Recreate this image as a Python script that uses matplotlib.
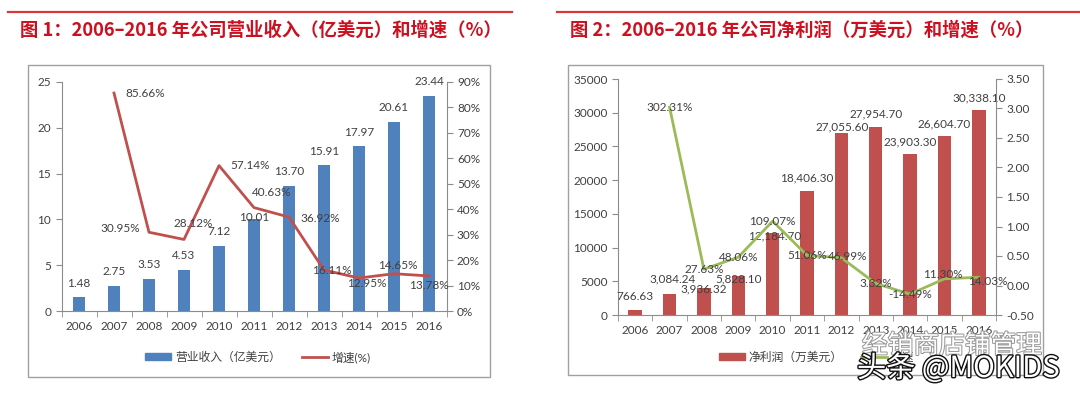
import matplotlib
matplotlib.use("Agg")
import matplotlib.pyplot as plt
from matplotlib.patches import Rectangle
from matplotlib.lines import Line2D
import matplotlib.patheffects as pe
import numpy as np

plt.rcParams['font.family'] = ['Lato', 'Noto Sans CJK SC', 'DejaVu Sans']

# ---------------- data ----------------
years = ['2006', '2007', '2008', '2009', '2010', '2011', '2012', '2013', '2014', '2015', '2016']
revenue = [1.48, 2.75, 3.53, 4.53, 7.12, 10.01, 13.70, 15.91, 17.97, 20.61, 23.44]
revenue_growth = [85.66, 30.95, 28.12, 57.14, 40.63, 36.92, 16.11, 12.95, 14.65, 13.78]  # 2007-2016, %
profit = [766.63, 3084.24, 3936.32, 5828.10, 12184.70, 18406.30, 27055.60, 27954.70,
          23903.30, 26604.70, 30338.10]
profit_growth = [3.0231, 0.2763, 0.4806, 1.0907, 0.5106, 0.4699, 0.0332, -0.1449,
                 0.1130, 0.1403]  # 2007-2016, ratio

title1 = '图 1：2006–2016 年公司营业收入（亿美元）和增速（%）'
title2 = '图 2：2006–2016 年公司净利润（万美元）和增速（%）'
legend1 = ['营业收入（亿美元）', '增速(%)']
legend2 = ['净利润（万美元）', '增速']

# label offsets (pixels)
rev_bar_dy = [14, 14, 14, 14, 14, 2, 14, 14, 14, 15, 15]
rev_gr_off = [(31, 0), (-29, 4), (9, 16), (31, 0), (18, 15), (31, -1), (8, 0), (8, -5), (4, 8), (0, -10)]
pro_bar_off = [(0, 13), (3, 15), (0, 0), (0, -3), (2, -3), (0, 13), (1, 6), (0, 13), (0, 12), (0, 12), (0, 13)]
pro_gr_off = [(0, 0), (0, 0), (0, 0), (0, 0), (0, 0), (6, 1), (0, 0), (0, 0), (-2, 4), (9, -4)]

W, H = 1080, 393
fig = plt.figure(figsize=(W / 100, H / 100), dpi=100)
fig.patch.set_facecolor('white')


def rect(l, t, r, b):
    return [l / W, 1 - b / H, (r - l) / W, (b - t) / H]


AX_COLOR = '#8c8c8c'
TXT = '#404040'
TITLE_RED = '#cc1020'

# ---- frames, rules, titles ----
fig.add_artist(Line2D([8 / W, 512 / W], [1 - 12 / H, 1 - 12 / H], color='#d9383a', lw=1.6))
fig.add_artist(Line2D([557 / W, 1080 / W], [1 - 12 / H, 1 - 12 / H], color='#d9383a', lw=1.6))
fig.add_artist(Rectangle((28 / W, 1 - 377 / H), (490 - 28) / W, (377 - 65) / H,
                         transform=fig.transFigure, fill=False, ec='#a0a0a0', lw=1.0))
fig.add_artist(Rectangle((568 / W, 1 - 375 / H), (1043 - 568) / W, (375 - 65) / H,
                         transform=fig.transFigure, fill=False, ec='#a0a0a0', lw=1.0))
fig.text(20 / W, 1 - 30 / H, title1, color=TITLE_RED, fontsize=13.2, fontweight='heavy',
         family=['Noto Sans CJK SC', 'DejaVu Sans'], va='center', ha='left')
fig.text(570 / W, 1 - 30 / H, title2, color=TITLE_RED, fontsize=13.2, fontweight='heavy',
         family=['Noto Sans CJK SC', 'DejaVu Sans'], va='center', ha='left')


def style_axes(ax, ax2):
    for a in (ax, ax2):
        for s in a.spines.values():
            s.set_visible(False)
    ax.spines['left'].set_visible(True)
    ax.spines['left'].set_color(AX_COLOR)
    ax.spines['bottom'].set_visible(True)
    ax.spines['bottom'].set_color(AX_COLOR)
    ax2.spines['right'].set_visible(True)
    ax2.spines['right'].set_color(AX_COLOR)
    ax.tick_params(axis='y', colors=AX_COLOR, labelcolor=TXT, labelsize=8.5, length=4, direction='out')
    ax2.tick_params(axis='y', colors=AX_COLOR, labelcolor=TXT, labelsize=8.5, length=4, direction='out')
    ax.tick_params(axis='x', which='major', length=0, labelcolor=TXT, labelsize=8.5, pad=7)
    ax.tick_params(axis='x', which='minor', length=4, color=AX_COLOR)
    ax.set_xticks(np.arange(-0.5, 11, 1), minor=True)
    ax.set_xlim(-0.5, 10.5)
    ax.patch.set_alpha(0)


x = np.arange(len(years))

# ---------------- panel 1 ----------------
ax = fig.add_axes(rect(61.5, 82, 446.5, 311))
ax2 = ax.twinx()
ax.set_zorder(1)
ax2.set_zorder(2)
ax2.patch.set_alpha(0)
ax.bar(x, revenue, width=0.37, color='#4f81bd')
ax.set_ylim(0, 25)
ax.set_yticks(range(0, 26, 5))
ax.set_xticks(x)
ax.set_xticklabels(years)
ax2.plot(x[1:], revenue_growth, color='#c0504d', lw=2)
ax2.set_ylim(0, 90)
ax2.set_yticks(range(0, 91, 10))
ax2.set_yticklabels([f'{v}%' for v in range(0, 91, 10)])
style_axes(ax, ax2)
for i, v in enumerate(revenue):
    ax.annotate(f'{v:.2f}', (x[i], v), xytext=(0, rev_bar_dy[i]), textcoords='offset pixels',
                ha='center', va='center', fontsize=8.5, color=TXT)
for i, v in enumerate(revenue_growth):
    ax2.annotate(f'{v:.2f}%', (x[i + 1], v), xytext=rev_gr_off[i], textcoords='offset pixels',
                 ha='center', va='center', fontsize=8.5, color=TXT)
h1 = [Rectangle((0, 0), 1, 1, color='#4f81bd'), Line2D([0], [0], color='#c0504d', lw=2)]
fig.legend(h1, legend1, loc='center', bbox_to_anchor=(258 / W, 1 - 357 / H), ncol=2, frameon=False,
           fontsize=8.5, handlelength=2.2, handleheight=0.5, columnspacing=1.8, handletextpad=0.3,
           labelcolor=TXT)

# ---------------- panel 2 ----------------
bx = fig.add_axes(rect(618, 79, 996, 315))
bx2 = bx.twinx()
bx.set_zorder(1)
bx2.set_zorder(2)
bx2.patch.set_alpha(0)
bx.bar(x, profit, width=0.39, color='#c0504d')
bx.set_ylim(0, 35000)
bx.set_yticks(range(0, 35001, 5000))
bx.set_xticks(x)
bx.set_xticklabels(years)
bx2.plot(x[1:], profit_growth, color='#9bbb59', lw=2)
bx2.set_ylim(-0.5, 3.5)
bx2.set_yticks(np.arange(-0.5, 3.51, 0.5))
bx2.set_yticklabels([f'{v:.2f}' for v in np.arange(-0.5, 3.51, 0.5)])
style_axes(bx, bx2)
for i, v in enumerate(profit):
    bx.annotate(f'{v:,.2f}', (x[i], v), xytext=pro_bar_off[i], textcoords='offset pixels',
                ha='center', va='center', fontsize=8.5, color=TXT)
for i, v in enumerate(profit_growth):
    bx2.annotate(f'{v * 100:.2f}%', (x[i + 1], v), xytext=pro_gr_off[i], textcoords='offset pixels',
                 ha='center', va='center', fontsize=8.5, color=TXT)
h2 = [Rectangle((0, 0), 1, 1, color='#c0504d'), Line2D([0], [0], color='#9bbb59', lw=2)]
fig.legend(h2, legend2, loc='center left', bbox_to_anchor=(708 / W, 1 - 357 / H), ncol=2, frameon=False,
           fontsize=8.5, handlelength=2.2, handleheight=0.5, columnspacing=1.6, handletextpad=0.3,
           labelcolor=TXT)

# ---------------- watermark ----------------
fig.text(862 / W, 1 - 346 / H, '经销商店铺管理', fontsize=18.5, color='white',
         family=['Noto Sans CJK SC', 'DejaVu Sans'], va='center', ha='left', zorder=20,
         path_effects=[pe.withStroke(linewidth=1.5, foreground='#9a9a9a')])
fig.text(857 / W, 1 - 369 / H, '头条 @MOKIDS', fontsize=21, color='white',
         family=['Noto Sans CJK SC', 'DejaVu Sans'], va='center', ha='left', zorder=21,
         path_effects=[pe.withStroke(linewidth=2, foreground='#111111')])

fig.savefig('out.png', dpi=100)
